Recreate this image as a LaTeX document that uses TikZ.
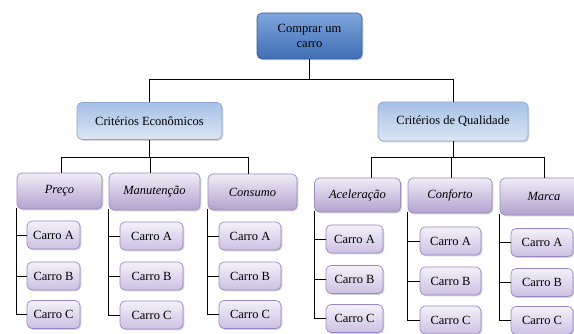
\documentclass[tikz,border=0pt]{standalone}
\usepackage{fontspec}
\setmainfont{Liberation Serif}
\usetikzlibrary{shadows}
\definecolor{rootdraw}{HTML}{3A5F9A}
\definecolor{roottop}{HTML}{7FA6DC}
\definecolor{rootbot}{HTML}{3F6DB5}
\definecolor{lonedraw}{HTML}{8EA9D0}
\definecolor{lonetop}{HTML}{A6C0E5}
\definecolor{lonebot}{HTML}{DCE6F4}
\definecolor{ltwodraw}{HTML}{9C8BBF}
\definecolor{ltwotop}{HTML}{F0ECF6}
\definecolor{ltwobot}{HTML}{B3A2CF}
\definecolor{carrodraw}{HTML}{9A86C4}
\definecolor{carrotop}{HTML}{F4F1F9}
\definecolor{carrobot}{HTML}{CCC0E2}
\begin{document}
\begin{tikzpicture}[x=1pt,y=-1pt,
  font=\fontsize{12.5}{15.5}\selectfont,
  base/.style={rounded corners=5pt, inner sep=1pt, align=center, line width=0.7pt,
    drop shadow={shadow xshift=1.3pt, shadow yshift=-1.3pt, opacity=0.35}},
  rootbox/.style={base, draw=rootdraw, top color=roottop, bottom color=rootbot,
    minimum width=105pt, minimum height=46pt},
  lonebox/.style={base, draw=lonedraw, top color=lonetop, bottom color=lonebot,
    minimum height=37pt},
  ltwobox/.style={base, draw=ltwodraw, top color=ltwotop, bottom color=ltwobot,
    font=\fontsize{12.5}{15.5}\selectfont\itshape},
  carbox/.style={base, draw=carrodraw, top color=carrotop, bottom color=carrobot,
    minimum height=28pt},
  conn/.style={draw=black, line width=0.8pt}]
\useasboundingbox (0,0) rectangle (574,334);

\node[rootbox] (root) at (309.5,36) {Comprar um\\carro};
\node[lonebox, minimum width=145pt] (econ) at (149.5,121) {Critérios Econômicos};
\node[lonebox, minimum width=150pt, minimum height=39pt] (qual) at (453,121.5) {Critérios de Qualidade};

\node[ltwobox, minimum width=85pt, minimum height=36pt] (preco) at (59.5,191) {Preço};
\node[ltwobox, minimum width=91pt, minimum height=37pt] (manut) at (154.5,191.5) {Manutenção};
\node[ltwobox, minimum width=89pt, minimum height=36pt] (consumo) at (252.5,192) {Consumo};
\node[ltwobox, minimum width=86pt, minimum height=34pt] (acel) at (357.5,195) {Aceleração};
\node[ltwobox, minimum width=84pt, minimum height=35pt] (conf) at (450,195.5) {Conforto};
\node[ltwobox, minimum width=88pt, minimum height=37pt] (marca) at (544,196.5) {Marca};

\foreach \g/\x/\w/\ya/\yb/\yc in {
  preco/53.5/53/235/276/314.5,
  manut/151.5/63/236/276/315,
  consumo/250/62/236/276/314.5,
  acel/354.5/57/239/279.5/318.5,
  conf/450.5/61/241/281/320,
  marca/542/62/242.5/282.5/320.5} {
  \node[carbox, minimum width=\w pt] (\g A) at (\x,\ya) {Carro A};
  \node[carbox, minimum width=\w pt] (\g B) at (\x,\yb) {Carro B};
  \node[carbox, minimum width=\w pt] (\g C) at (\x,\yc) {Carro C};
  \draw[conn] ([yshift=1pt]\g.south west) -- (\g.south west |- \g C.west) -- (\g C.west);
  \draw[conn] (\g.south west |- \g A.west) -- (\g A.west);
  \draw[conn] (\g.south west |- \g B.west) -- (\g B.west);
}

\draw[conn] (root.south) -- ++(0,20) -| (econ.north);
\draw[conn] (root.south) ++(0,20) -| (qual.north);

\draw[conn] (econ.south) -- ++(0,18) -| ([xshift=1.5pt]preco.north);
\draw[conn] (econ.south) ++(0,18) -| ([xshift=-4pt]manut.north);
\draw[conn] (econ.south) ++(0,18) -| ([xshift=-4pt]consumo.north);

\draw[conn] (qual.south) -- ++(0,16) -| ([xshift=14pt]acel.north);
\draw[conn] (qual.south) ++(0,16) -| ([xshift=-2pt]qual.south |- conf.north);
\draw[conn] (qual.south) ++(0,16) -| (marca.north);
\end{tikzpicture}
\end{document}
